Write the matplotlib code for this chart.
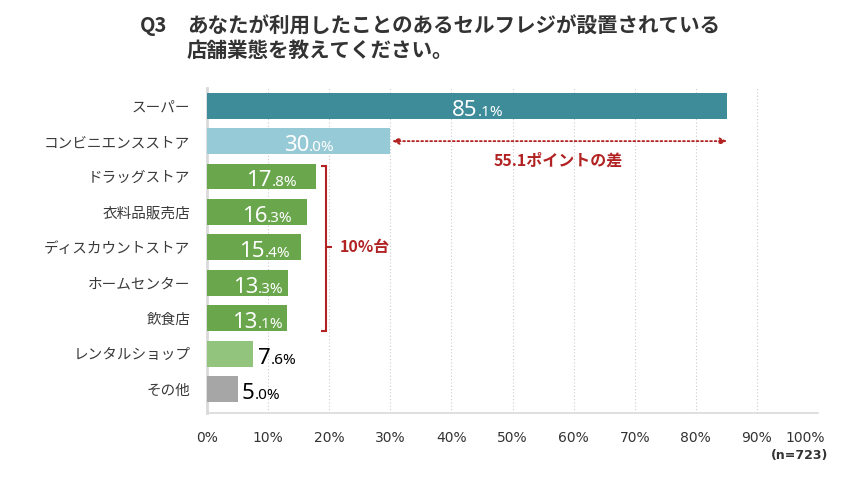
import matplotlib.pyplot as plt
import matplotlib.transforms as mtransforms
from matplotlib.path import Path
from matplotlib.patches import PathPatch

plt.rcParams['font.family'] = ['Noto Sans CJK JP', 'DejaVu Sans']

# データ
categories = ["スーパー", "コンビニエンスストア", "ドラッグストア", "衣料品販売店",
              "ディスカウントストア", "ホームセンター", "飲食店", "レンタルショップ", "その他"]
values = [85.1, 30.0, 17.8, 16.3, 15.4, 13.3, 13.1, 7.6, 5.0]
colors = ["#3e8b9a", "#96cad6", "#69a64c", "#69a64c", "#69a64c", "#69a64c", "#69a64c",
          "#93c47d", "#a6a6a6"]
xticks = [0, 10, 20, 30, 40, 50, 60, 70, 80, 90, 100]
xtick_labels = [f"{t}%" for t in xticks]
red = "#b22222"

fig = plt.figure(figsize=(8.6, 4.93), dpi=100)
ax = fig.add_axes([0.2407, 0.162, 0.7105, 0.6595])

ypos = list(range(len(categories)))
ax.barh(ypos, values, height=0.73, color=colors, zorder=3)
ax.set_xlim(0, 100)
ax.set_ylim(8.68, -0.5)

# グリッドと軸
ax.set_xticks(xticks)
ax.set_xticklabels(xtick_labels, family='DejaVu Sans', fontsize=10, color="#333333")
ax.xaxis.grid(True, linestyle=(0, (1, 2)), color="#cccccc", linewidth=0.8, zorder=0)
ax.tick_params(axis='x', length=0, pad=13)
ax.tick_params(axis='y', length=0, pad=12)
ax.set_yticks(ypos)
ax.set_yticklabels(categories, fontsize=10.5, color="#3a3a3a")
for s in ["top", "right"]:
    ax.spines[s].set_visible(False)
ax.spines["left"].set_color("#d9d9d9")
ax.spines["left"].set_linewidth(2)
ax.spines["bottom"].set_color("#d9d9d9")
ax.spines["bottom"].set_linewidth(1.2)
lbl = ax.get_xticklabels()[-1]
lbl.set_horizontalalignment('right')
lbl.set_transform(lbl.get_transform() + mtransforms.ScaledTranslation(0.07, 0, fig.dpi_scale_trans))

# 値ラベル(整数部大きく、小数部小さく)
for i, v in enumerate(values):
    whole, dec = f"{v:.1f}".split(".")
    inside = v > 10
    col = "white" if inside else "black"
    if inside:
        t1 = ax.text(v / 2 + 1.7, i + 0.28, whole, fontsize=16, color=col, family='Noto Sans',
                     ha='right', va='baseline', zorder=5)
    else:
        t1 = ax.text(v + 0.7, i + 0.28, whole, fontsize=16, color=col, family='Noto Sans',
                     ha='left', va='baseline', zorder=5)
    ax.annotate("." + dec + "%", xy=(1, i + 0.28), xycoords=(t1, 'data'),
                fontsize=11, color=col, family='Noto Sans', ha='left',
                va='baseline', zorder=5)

# 差の矢印
ax.annotate("", xy=(values[0], 1), xytext=(values[1] + 0.3, 1),
            arrowprops=dict(arrowstyle="<|-|>", color=red, linestyle=(0, (1, 1.5)),
                            linewidth=1.3, mutation_scale=10, shrinkA=0, shrinkB=0),
            zorder=4)
ax.text((values[0] + values[1]) / 2, 1.55, f"{values[0] - values[1]:.1f}ポイントの差",
        color=red, fontsize=11.5, fontweight='bold', ha='center', va='center')

# 10%台の括弧
bx, top, bot, mid = 19.5, 1.69, 6.35, 4.0
verts = [(bx - 0.8, top), (bx, top), (bx, mid), (bx + 0.9, mid),
         (bx, mid), (bx, bot), (bx - 0.8, bot)]
codes = [Path.MOVETO, Path.LINETO, Path.LINETO, Path.LINETO,
         Path.MOVETO, Path.LINETO, Path.LINETO]
ax.add_patch(PathPatch(Path(verts, codes), fill=False, edgecolor=red, linewidth=1.5,
                       zorder=4, clip_on=False))
ax.text(21.8, mid, "10%台", color=red, fontsize=11.5, fontweight='bold',
        ha='left', va='center')

# タイトル
fig.text(140 / 860, 1 - 26 / 493, "Q3", fontsize=14.5, fontweight='bold', color="#333333",
         va='center', ha='left')
fig.text(187 / 860, 1 - 26 / 493, "あなたが利用したことのあるセルフレジが設置されている",
         fontsize=14.8, fontweight='bold', color="#333333", va='center', ha='left')
fig.text(187 / 860, 1 - 50 / 493, "店舗業態を教えてください。",
         fontsize=14.8, fontweight='bold', color="#333333", va='center', ha='left')

fig.text(828 / 860, 1 - 456 / 493, "(n=723)", fontsize=9, fontweight='bold',
         family='DejaVu Sans', color="#333333", ha='right', va='center')

fig.savefig("out.png", dpi=100)
